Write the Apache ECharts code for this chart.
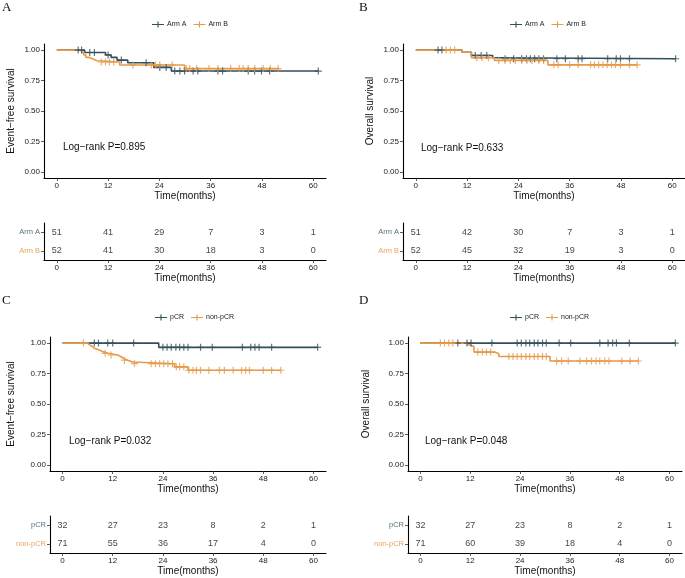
<!DOCTYPE html>
<html><head><meta charset="utf-8">
<script src="https://cdn.jsdelivr.net/npm/echarts@6/dist/echarts.min.js"></script>
<style>html,body{margin:0;padding:0;background:#fff}#c{width:685px;height:578px}</style>
</head><body><div id="c"></div><script>
const xTicks = [0, 12, 24, 36, 48, 60];
const yTicks = [0, 0.25, 0.5, 0.75, 1];

// ---- Panel A: EFS by arm ----
const aGroups = ['Arm A', 'Arm B'];
const aTimesA = [0, 6.5, 11.4, 12.7, 14.1, 16.6, 22.7, 26.8, 61.2];
const aSurvA  = [1, 0.98, 0.96, 0.94, 0.918, 0.896, 0.858, 0.828, 0.828];
const aCensA  = [5.0, 5.8, 7.7, 8.8, 12.0, 15.1, 20.9, 24.1, 25.6, 27.6, 28.8, 29.9, 31.9, 33.0, 37.7, 38.8, 44.8, 46.3, 47.9, 49.8, 61.2];
const aTimesB = [0, 5.8, 6.3, 6.8, 7.6, 8.6, 9.4, 14.7, 29.9, 52.0];
const aSurvB  = [1, 0.98, 0.96, 0.94, 0.925, 0.913, 0.902, 0.878, 0.848, 0.848];
const aCensB  = [10.4, 11.4, 12.3, 13.3, 17.8, 22.1, 23.1, 24.1, 27.0, 30.3, 31.1, 32.7, 35.6, 37.7, 40.7, 42.7, 43.6, 44.8, 46.3, 48.3, 50.0, 51.8];
const aRiskA  = [51, 41, 29, 7, 3, 1];
const aRiskB  = [52, 41, 30, 18, 3, 0];

// ---- Panel B: OS by arm ----
const bGroups = ['Arm A', 'Arm B'];
const bTimesA = [0, 10.8, 13.0, 18.0, 18.8, 60.8];
const bSurvA  = [1, 0.982, 0.956, 0.937, 0.929, 0.929];
const bCensA  = [5.2, 6.1, 13.9, 15.3, 16.6, 20.9, 22.9, 24.8, 25.9, 26.8, 27.8, 28.8, 29.9, 33.0, 35.0, 38.0, 38.9, 44.9, 46.9, 47.9, 50.0, 60.8];
const bTimesB = [0, 10.8, 13.0, 18.4, 30.9, 51.8];
const bSurvB  = [1, 0.982, 0.937, 0.915, 0.879, 0.879];
const bCensB  = [7.1, 8.1, 9.1, 14.3, 15.5, 17.0, 19.4, 20.9, 22.1, 23.3, 24.8, 26.0, 27.2, 28.8, 29.9, 32.3, 33.3, 36.0, 38.0, 40.9, 41.8, 42.8, 43.8, 44.8, 45.8, 46.7, 47.9, 50.0, 51.8];
const bRiskA  = [51, 42, 30, 7, 3, 1];
const bRiskB  = [52, 45, 32, 19, 3, 0];

// ---- Panel C: EFS by pCR ----
const cGroups = ['pCR', 'non-pCR'];
const cTimesA = [0, 23.0, 61.0];
const cSurvA  = [1, 0.965, 0.965];
const cCensA  = [7.6, 8.6, 10.8, 12.0, 17.0, 24.0, 25.0, 26.0, 27.1, 28.0, 29.0, 30.0, 33.0, 35.8, 43.0, 45.0, 46.0, 47.0, 50.0, 61.0];
const cTimesB = [0, 6.0, 6.5, 7.1, 7.6, 8.8, 9.6, 10.8, 13.2, 14.0, 14.6, 15.6, 16.8, 26.8, 30.0, 52.2];
const cSurvB  = [1, 0.986, 0.972, 0.958, 0.944, 0.93, 0.916, 0.902, 0.888, 0.874, 0.86, 0.845, 0.831, 0.805, 0.777, 0.777];
const cCensB  = [5.0, 10.2, 11.6, 14.8, 17.2, 21.2, 22.2, 23.2, 24.2, 25.2, 26.3, 27.2, 28.0, 29.0, 30.2, 31.2, 32.0, 33.0, 35.0, 37.5, 38.7, 40.8, 42.8, 43.8, 44.7, 48.0, 50.0, 52.2];
const cRiskA  = [32, 27, 23, 8, 2, 1];
const cRiskB  = [71, 55, 36, 17, 4, 0];

// ---- Panel D: OS by pCR ----
const dGroups = ['pCR', 'non-pCR'];
const dTimesA = [0, 61.4];
const dSurvA  = [1, 1];
const dCensA  = [9.0, 11.2, 12.2, 17.2, 23.3, 24.3, 25.4, 26.3, 27.4, 28.3, 29.4, 30.3, 33.4, 36.2, 43.2, 45.2, 46.3, 47.2, 50.3, 61.4];
const dTimesB = [0, 11.0, 11.6, 12.9, 17.9, 18.9, 31.2, 52.5];
const dSurvB  = [1, 0.986, 0.972, 0.926, 0.912, 0.89, 0.853, 0.853];
const dCensB  = [4.8, 5.8, 6.8, 7.8, 13.8, 14.9, 15.9, 16.9, 21.3, 22.3, 23.3, 24.3, 25.4, 26.3, 27.4, 28.3, 29.4, 30.3, 32.8, 34.0, 35.6, 38.4, 40.0, 41.2, 42.3, 43.2, 44.4, 45.4, 48.5, 50.5, 52.5];
const dRiskA  = [32, 27, 23, 8, 2, 1];
const dRiskB  = [71, 60, 39, 18, 4, 0];

const FONT = '"Liberation Sans", Arial, sans-serif';
const SERIF = '"Liberation Serif", "Times New Roman", serif';
const DARK = '#34505C', ORANGE = '#E69A4A';
const COLS = [DARK, ORANGE];
const plusPath = 'path://M-0.17,-1H0.17V-0.17H1V0.17H0.17V1H-0.17V0.17H-1V-0.17H-0.17Z';
const legendIcon = 'path://M0,4.35H14V5.65H0Z M6.35,1.5H7.65V8.5H6.35Z';

const panels = [
  {letter:'A', yName:'Event\u2212free survival', p:'Log\u2212rank P=0.895', groups:aGroups,
   times:[aTimesA,aTimesB], surv:[aSurvA,aSurvB], cens:[aCensA,aCensB], risk:[aRiskA,aRiskB],
   L:{left:44, top:44, width:282, height:134, rtTop:223, rtH:37, letterX:2, letterY:8, legLeft:152, legTop:21, pX:63, pY:147, yGap:28}},
  {letter:'B', yName:'Overall survival', p:'Log\u2212rank P=0.633', groups:bGroups,
   times:[bTimesA,bTimesB], surv:[bSurvA,bSurvB], cens:[bCensA,bCensB], risk:[bRiskA,bRiskB],
   L:{left:403, top:44, width:282, height:134, rtTop:223, rtH:37, letterX:359, letterY:8, legLeft:510, legTop:21, pX:421, pY:148, yGap:28}},
  {letter:'C', yName:'Event\u2212free survival', p:'Log\u2212rank P=0.032', groups:cGroups,
   times:[cTimesA,cTimesB], surv:[cSurvA,cSurvB], cens:[cCensA,cCensB], risk:[cRiskA,cRiskB],
   L:{left:50, top:337, width:276, height:134, rtTop:516, rtH:37, letterX:2, letterY:301, legLeft:155, legTop:314, pX:69, pY:441, yGap:34}},
  {letter:'D', yName:'Overall survival', p:'Log\u2212rank P=0.048', groups:dGroups,
   times:[dTimesA,dTimesB], surv:[dSurvA,dSurvB], cens:[dCensA,dCensB], risk:[dRiskA,dRiskB],
   L:{left:408, top:337, width:274, height:134, rtTop:516, rtH:37, letterX:359, letterY:301, legLeft:510, legTop:314, pX:425, pY:441, yGap:37}}
];

function survAt(times, surv, t) {
  let v = surv[0];
  for (let i = 0; i < times.length; i++) { if (times[i] <= t) v = surv[i]; }
  return v;
}

function xAxisDef(gi) {
  return {
    gridIndex: gi, type: 'value', min: -3, max: 63,
    axisLine: {show: true, onZero: false, lineStyle: {color: '#000', width: 1.1}},
    axisTick: {show: true, customValues: xTicks, length: 3, lineStyle: {color: '#333', width: 0.8}},
    axisLabel: {customValues: xTicks, fontSize: 8, color: '#222', margin: 4, fontFamily: FONT},
    splitLine: {show: false},
    name: 'Time(months)', nameLocation: 'middle', nameGap: 12,
    nameTextStyle: {fontSize: 10, color: '#111', fontFamily: FONT}
  };
}

const option = {animation: false, backgroundColor: '#fff', grid: [], xAxis: [], yAxis: [], series: [], legend: [], graphic: []};

panels.forEach((P) => {
  const gi = option.grid.length;
  const L = P.L;
  option.grid.push({left: L.left, top: L.top, width: L.width, height: L.height});
  option.grid.push({left: L.left, top: L.rtTop, width: L.width, height: L.rtH});
  option.xAxis.push(xAxisDef(gi), xAxisDef(gi + 1));
  option.yAxis.push({
    gridIndex: gi, type: 'value', min: -0.05, max: 1.05,
    axisLine: {show: true, onZero: false, lineStyle: {color: '#000', width: 1.1}},
    axisTick: {show: true, customValues: yTicks, length: 3, lineStyle: {color: '#333', width: 0.8}},
    axisLabel: {customValues: yTicks, formatter: v => v.toFixed(2), fontSize: 8, color: '#222', margin: 4, fontFamily: FONT},
    splitLine: {show: false},
    name: P.yName, nameLocation: 'middle', nameGap: L.yGap, nameRotate: 90,
    nameTextStyle: {fontSize: 10, color: '#111', fontFamily: FONT}
  });
  option.yAxis.push({
    gridIndex: gi + 1, type: 'category', data: P.groups, inverse: true,
    axisLine: {show: true, onZero: false, lineStyle: {color: '#000', width: 1.1}},
    axisTick: {show: true, alignWithLabel: true, length: 3, lineStyle: {color: '#333', width: 0.8}},
    axisLabel: {fontSize: 7.5, margin: 4, fontFamily: FONT,
      color: (val) => val === P.groups[0] ? '#5B717C' : '#E8A461'},
    splitLine: {show: false}
  });
  P.groups.forEach((g, j) => {
    const col = COLS[j];
    option.series.push({
      type: 'line', name: g, xAxisIndex: gi, yAxisIndex: gi, step: 'end', showSymbol: false, symbol: 'none',
      data: P.times[j].map((t, i) => [t, P.surv[j][i]]),
      lineStyle: {color: col, width: 1.6}, itemStyle: {color: col}, silent: true, z: 2
    });
    option.series.push({
      type: 'scatter', name: g, xAxisIndex: gi, yAxisIndex: gi, symbol: plusPath, symbolSize: 7,
      data: P.cens[j].map(t => [t, survAt(P.times[j], P.surv[j], t)]),
      itemStyle: {color: col}, silent: true, z: 3
    });
    option.series.push({
      type: 'scatter', xAxisIndex: gi + 1, yAxisIndex: gi + 1, symbolSize: 0,
      data: xTicks.map((t, i) => [t, g, P.risk[j][i]]),
      label: {show: true, position: 'inside', formatter: p => String(p.value[2]), fontSize: 9, color: '#111', fontFamily: FONT},
      silent: true
    });
  });
  option.legend.push({
    left: L.legLeft, top: L.legTop, data: P.groups, icon: legendIcon, itemWidth: 12, itemHeight: 7, itemGap: 7,
    padding: 0, selectedMode: false,
    textStyle: {fontSize: 7, color: '#222', fontFamily: FONT, padding: [0, 0, 0, -2]}
  });
  option.graphic.push({
    type: 'text', x: L.letterX, y: L.letterY,
    style: {text: P.letter, fill: '#111', font: '13px ' + SERIF, verticalAlign: 'middle'}
  });
  option.graphic.push({
    type: 'text', x: L.pX, y: L.pY,
    style: {text: P.p, fill: '#111', font: '10px ' + FONT, verticalAlign: 'middle'}
  });
});

const chart = echarts.init(document.getElementById('c'), null, {renderer: 'canvas'});
chart.setOption(option);
</script></body></html>
